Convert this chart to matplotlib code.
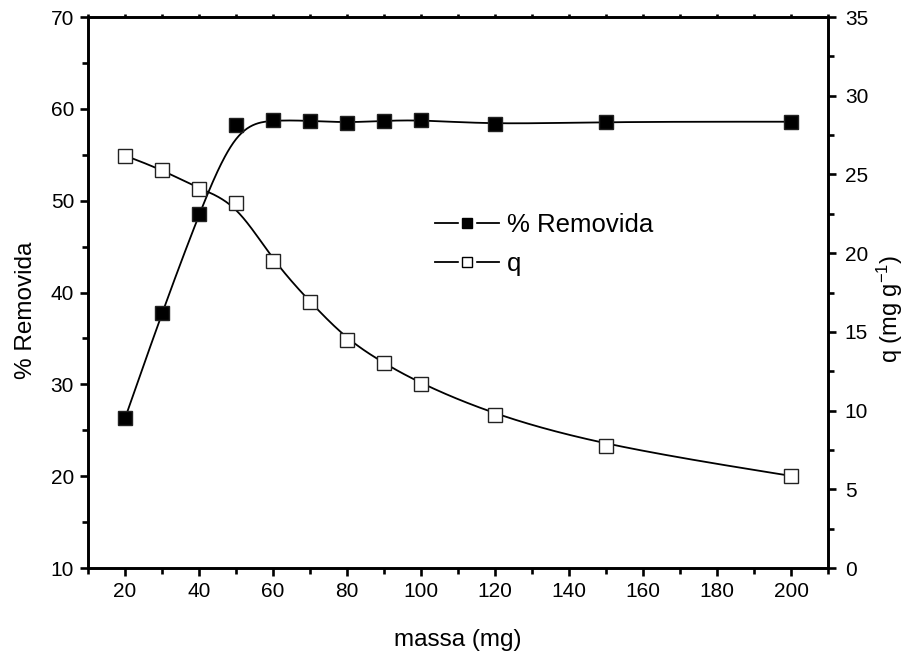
import numpy as np
import matplotlib
matplotlib.use("Agg")
import matplotlib.pyplot as plt
from matplotlib.ticker import MultipleLocator
from matplotlib.legend_handler import HandlerTuple

plt.rcParams["font.family"] = ["Liberation Sans", "DejaVu Sans"]
plt.rcParams["mathtext.fontset"] = "custom"
plt.rcParams["mathtext.rm"] = "Liberation Sans"
plt.rcParams["mathtext.default"] = "regular"

# dados
massa = [20, 30, 40, 50, 60, 70, 80, 90, 100, 120, 150, 200]
removida = [26.3, 37.8, 48.6, 58.2, 58.8, 58.7, 58.5, 58.7, 58.8, 58.3, 58.6, 58.6]
q = [26.2, 25.3, 24.1, 23.2, 19.5, 16.9, 14.5, 13.0, 11.7, 9.7, 7.75, 5.85]


def bspline(xs, ys, n=40):
    # curva B-spline cúbica uniforme (estilo Origin), extremos fixos
    px = np.r_[xs[0], xs[0], xs, xs[-1], xs[-1]].astype(float)
    py = np.r_[ys[0], ys[0], ys, ys[-1], ys[-1]].astype(float)
    t = np.linspace(0, 1, n, endpoint=False)
    b0 = (1 - t) ** 3 / 6
    b1 = (3 * t**3 - 6 * t**2 + 4) / 6
    b2 = (-3 * t**3 + 3 * t**2 + 3 * t + 1) / 6
    b3 = t**3 / 6
    cx, cy = [], []
    for i in range(len(px) - 3):
        cx.append(b0 * px[i] + b1 * px[i + 1] + b2 * px[i + 2] + b3 * px[i + 3])
        cy.append(b0 * py[i] + b1 * py[i + 1] + b2 * py[i + 2] + b3 * py[i + 3])
    cx.append([xs[-1]])
    cy.append([ys[-1]])
    return np.concatenate(cx), np.concatenate(cy)


fig = plt.figure(figsize=(9.1, 6.55), dpi=100)
ax = fig.add_axes([0.0967, 0.1328, 0.8133, 0.8412])
ax2 = ax.twinx()

lw = 1.3
ms = 10.5

x1, y1 = bspline(np.array(massa), np.array(removida))
ax.plot(x1, y1, color="black", lw=lw, zorder=2)
ax.plot(massa, removida, ls="none", marker="s", ms=ms, mfc="black",
        mec="#222222", mew=1.0, zorder=3)

x2, y2 = bspline(np.array(massa), np.array(q))
ax2.plot(x2, y2, color="black", lw=lw, zorder=2)
ax2.plot(massa, q, ls="none", marker="s", ms=ms, mfc="white",
         mec="#222222", mew=1.0, zorder=3)

ax.set_xlim(10, 210)
ax.set_ylim(10, 70)
ax2.set_ylim(0, 35)

ax.xaxis.set_major_locator(MultipleLocator(20))
ax.xaxis.set_minor_locator(MultipleLocator(10))
ax.yaxis.set_major_locator(MultipleLocator(10))
ax.yaxis.set_minor_locator(MultipleLocator(5))
ax2.yaxis.set_major_locator(MultipleLocator(5))
ax2.yaxis.set_minor_locator(MultipleLocator(2.5))

for a in (ax, ax2):
    for s in a.spines.values():
        s.set_linewidth(1.9)

ax.tick_params(axis="both", which="major", direction="out", length=6,
               width=1.9, labelsize=15, pad=4)
ax.tick_params(axis="both", which="minor", direction="out", length=4, width=1.9)
ax.tick_params(axis="x", which="both", top=True, labeltop=False)
for tk in ax.xaxis.get_major_ticks() + ax.xaxis.get_minor_ticks():
    tk.tick2line.set_markersize(2)
ax2.tick_params(axis="y", which="major", direction="out", length=6,
                width=1.9, labelsize=15, pad=6)
ax2.tick_params(axis="y", which="minor", direction="out", length=4, width=1.9)

ax.set_xlabel("massa (mg)", fontsize=17.5, labelpad=20)
ax.set_ylabel("% Removida", fontsize=17.5, labelpad=10)
ax.yaxis.label.set_y(0.468)
ax2.set_ylabel("q (mg g$^{-1}$)", fontsize=17, labelpad=5, rotation=90)
ax2.yaxis.label.set_y(0.47)

h1a = plt.Line2D([], [], color="black", lw=lw, marker="s", ms=11,
                 mfc="white", mec="white")
h1b = plt.Line2D([], [], ls="none", marker="s", ms=7.5, mfc="black", mec="black")
h2b = plt.Line2D([], [], ls="none", marker="s", ms=7.5, mfc="white", mec="black",
                 mew=1.0)
fig.legend([(h1a, h1b), (h1a, h2b)], ["% Removida", "q"], loc="upper left",
           bbox_to_anchor=(0.478, 0.675), frameon=False, fontsize=18.5,
           handlelength=2.5, handletextpad=0.3, labelspacing=0.58,
           borderpad=0, borderaxespad=0,
           handler_map={tuple: HandlerTuple(ndivide=1, pad=0)})

fig.savefig("out.png", dpi=100)
